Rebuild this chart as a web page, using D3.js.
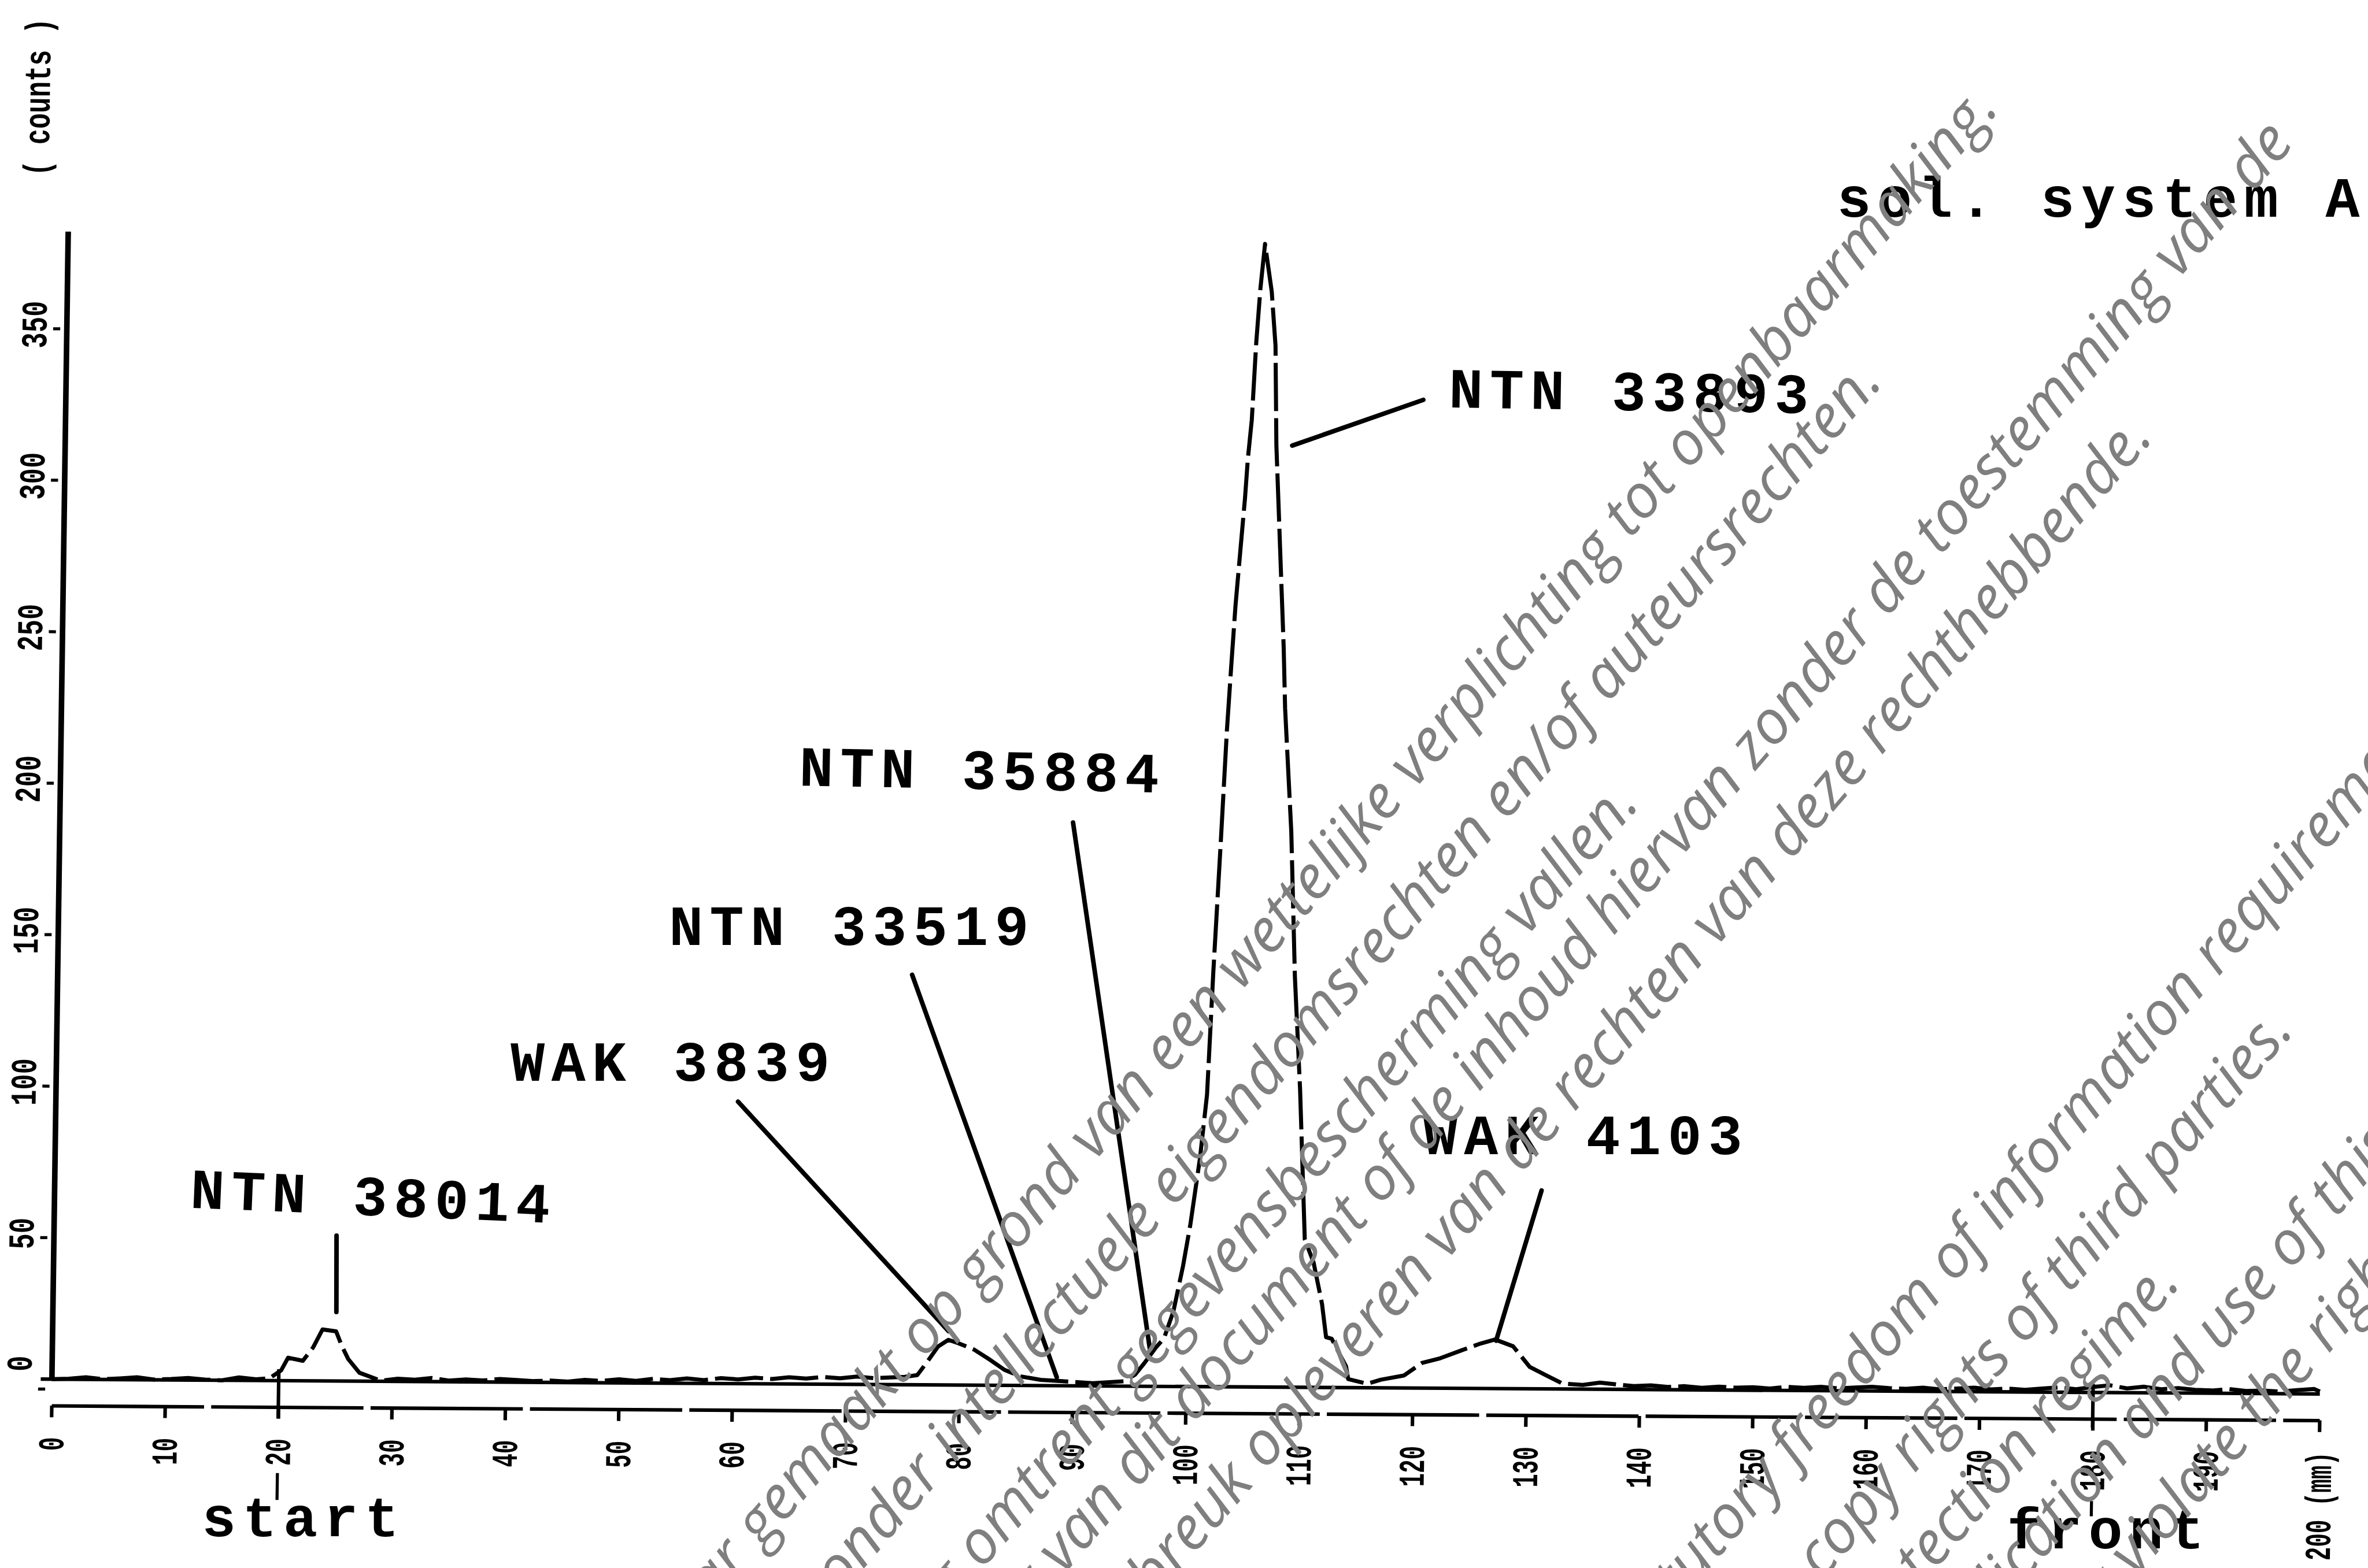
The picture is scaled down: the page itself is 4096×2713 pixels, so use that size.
<!DOCTYPE html>
<html>
<head>
<meta charset="utf-8">
<script src="https://cdn.jsdelivr.net/npm/d3@7"></script>
<style>
  html, body { margin: 0; padding: 0; background: #fff; }
  svg { display: block; }
</style>
</head>
<body>
<svg id="chart" width="4096" height="2713"></svg>
<script>
// Radio-TLC scan, solvent system A: counts along the plate (start at 20, front at 180).

const distance = [
  0, 1.5, 3, 4.5, 6, 7.5, 9, 10.5, 12, 13.5, 15, 16.5, 18, 19.2,
  20.2, 20.8, 22.1, 23.0, 23.8, 25.0, 25.5, 26.1, 27.1, 29.0,
  30.5, 32, 33.5, 35, 36.5, 38, 39.5, 41, 42.5, 44, 45.5, 47, 48.5, 50,
  51.5, 53, 54.5, 56, 57.5, 59, 60.5, 62, 63.5, 65, 66.5, 68, 69.5, 71, 72.5, 74, 75.2,
  76.3, 77.2, 78.1, 79.0, 79.9, 81.3, 82.7, 84.0, 85.4, 87.2, 89.1, 91.8, 94.5, 95.5,
  96.3, 97.3, 98.0, 98.8, 99.6, 100.2, 100.96, 101.5, 101.9, 102.4, 102.8, 103.1,
  103.4, 103.7, 104.1, 104.3, 104.6, 104.9, 105.2, 105.55, 106.2, 106.6, 106.8,
  107.1, 107.4, 107.7, 107.9, 108.6, 109.1, 109.7, 110.3, 111.1, 111.9, 112.3,
  112.8, 113.3, 114.1, 114.3, 116.0, 117.2, 119.2, 120.8, 122.4, 124.3, 125.9,
  127.2, 128.8, 130.3, 131.8, 133.2,
  135, 136.5, 138, 139.5, 141, 142.5, 144, 145.5, 147, 148.5, 150, 151.5, 153,
  154.5, 156, 157.5, 159, 160.5, 162, 163.5, 165, 166.5, 168, 169.5, 171, 172.5,
  174, 175.5, 177, 178.5, 180, 181.5, 183, 184.5, 186, 187.5, 189, 190.5, 192,
  193.5, 195, 196.5, 198, 199.5, 200
];

const counts = [
  3.2, 3.4, 3.9, 3.3, 3.6, 4.0, 3.3, 3.5, 3.9, 3.4, 3.2, 4.2, 3.6, 4.0,
  6.6, 10.8, 9.8, 14.3, 20.2, 19.6, 15.0, 10.5, 6.0, 3.4,
  4.1, 3.8, 4.4, 3.6, 4.0, 3.7, 4.2, 3.9, 3.6, 3.8, 3.5, 4.1, 3.8, 4.4,
  3.9, 4.6, 4.2, 4.8, 4.3, 5.0, 4.6, 5.2, 4.8, 5.4, 5.0, 5.6, 5.2, 5.8, 5.3, 5.6, 5.8,
  6.4, 11.0, 15.9, 18.1, 17.0, 14.9, 11.6, 8.3, 6.2, 5.1, 4.7, 4.1, 4.8, 7.0,
  10.8, 16.0, 19.0, 27.9, 43.0, 56.9, 78.7, 99.6, 140.0, 183.4, 220.2, 241.3,
  261.2, 276.4, 296.5, 309.4, 322.3, 348.1, 365.9, 380.5, 364.8, 347.0, 314.2,
  291.9, 269.5, 247.3, 227.3, 186.6, 138.7, 101.4, 52.0, 44.5, 30.8, 19.8,
  19.3, 15.7, 10.2, 6.0, 4.5, 5.9, 7.3, 11.5, 13.1, 15.8, 18.0,
  19.4, 17.2, 10.4, 7.6, 5.0,
  4.6, 5.4, 4.8, 4.3, 4.6, 4.1, 4.4, 3.9, 4.3, 4.0, 4.2, 3.8, 4.4,
  4.1, 4.5, 4.0, 4.3, 4.6, 4.2, 4.0, 4.4, 3.9, 4.2, 4.5, 4.0, 4.3,
  3.9, 4.4, 4.8, 4.2, 5.0, 5.6, 4.6, 5.2, 4.4, 4.8, 4.3, 4.1, 4.6,
  4.0, 4.2, 3.9, 4.4, 4.8, 4.0
];

const background = 3.2;

const xTicks = [0, 10, 20, 30, 40, 50, 60, 70, 80, 90, 100, 110, 120, 130, 140, 150, 160, 170, 180, 190, 200];
const xTickLabels = ["0", "10", "20", "30", "40", "50", "60", "70", "80", "90", "100", "110", "120", "130", "140", "150", "160", "170", "180", "190", "200 (mm)"];
const yTicks = [0, 50, 100, 150, 200, 250, 300, 350];
const yTickLabels = ["0", "50", "100", "150", "200", "250", "300", "350"];
const yTitle = "( counts )";

const peakNames = ["NTN 38014", "WAK 3839", "NTN 33519", "NTN 35884", "NTN 33893", "WAK 4103"];
const peakDistance = [25.0, 79.0, 88.6, 96.8, 108.2, 127.3];
const leaderCounts = [26, 21, 6, 15, 314, 19];

const startDistance = 20;
const frontDistance = 180;
const titleText = "sol. system A";

const noticeLines = [
  "Dit document is openbaar gemaakt op grond van een wettelijke verplichting tot openbaarmaking.",
  "Dit document kan vallen onder intellectuele eigendomsrechten en/of auteursrechten.",
  "Dit document kan gegevens bevatten die onder regelgeving omtrent gegevensbescherming vallen.",
  "Verveelvoudiging en/of openbaarmaking van dit document of de inhoud hiervan zonder de toestemming van de",
  "rechthebbende kan een inbreuk opleveren van de rechten van deze rechthebbende.",
  "This document has been made public under statutory freedom of information requirements.",
  "This document may be subject to intellectual property rights and/or copy rights of third parties.",
  "This document may contain data that fall under a data protection regime.",
  "Reproduction and/or publication and use of this document or its contents without the consent of the",
  "rightholder may violate the rights of the rightholder."
];

// ---------- layout (reference pixel units, scaled once at the root) ----------
const S = 0.878;
const W = 4096, H = 2713;
const MONO = "'Liberation Mono', 'Courier New', monospace";

// pinned watermark points: the substring ending at `pin` sits at (px, py)
const noticeLayout = [
  { pin: null, px: 3941, py: 215 },
  { pin: null, px: 3712, py: 754 },
  { pin: null, px: 3233, py: 1585 },
  { pin: null, px: 4522, py: 283 },
  { pin: null, px: 4245, py: 863 },
  { pin: "information", px: 4350, py: 1949 },
  { pin: null, px: 4522, py: 2032 },
  { pin: null, px: 4299, py: 2529 },
  { pin: "use of", px: 4582, py: 2425 },
  { pin: "violate the", px: 4567, py: 2692 }
];

// label boxes: left/baseline of the text, tilt, and where the leader leaves the text
const labelLayout = [
  { x: 374,  y: 2380, rot: 2.4, lx: 663,  ly: 2435 },
  { x: 1006, y: 2130, rot: 0,   lx: 1454, ly: 2171 },
  { x: 1318, y: 1862, rot: 0,   lx: 1797, ly: 1921 },
  { x: 1574, y: 1548, rot: 1.1, lx: 2114, ly: 1621 },
  { x: 2854, y: 803,  rot: 0.9, lx: 2804, ly: 788 },
  { x: 2804, y: 2275, rot: 0,   lx: 3037, ly: 2346 }
];

const svg = d3.select("#chart");
svg.append("rect").attr("width", W).attr("height", H).attr("fill", "#fff");
const root = svg.append("g").attr("transform", `scale(${S})`);

const x = d3.scaleLinear().domain([0, 200]).range([102, 4570]);
const y = d3.scaleLinear().domain([0, 382]).range([2737, 2737 - 382 * 5.97]);

// the plotter frame is slightly skewed on the sheet
const KX = -0.0142, KY = 0.0065;
const O = [x(0), y(0)];
const plot = root.append("g")
  .attr("transform", `translate(${O[0]},${O[1]}) matrix(1,${KY},${KX},1,0,0) translate(${-O[0]},${-O[1]})`);
function page(px, py) {
  const dx = px - O[0], dy = py - O[1];
  return [O[0] + dx + KX * dy, O[1] + KY * dx + dy];
}

function tickFont(sel) {
  sel.attr("font-family", MONO)
     .attr("font-weight", "bold")
     .attr("font-size", 72)
     .attr("fill", "#000");
}

// x axis (separate ruled line below the trace)
const xAxis = d3.axisBottom(x)
  .tickValues(xTicks)
  .tickSize(23)
  .tickSizeOuter(0)
  .tickFormat((d, i) => xTickLabels[i]);
const gx = plot.append("g")
  .attr("transform", `translate(0,${y(0) + 33})`)
  .call(xAxis);
gx.attr("font-size", null).attr("font-family", null);
gx.select(".domain")
  .attr("stroke", "#000").attr("stroke-width", 7)
  .attr("stroke-dasharray", "300 14");
gx.selectAll(".tick line").attr("stroke", "#000").attr("stroke-width", 7);
gx.selectAll(".tick text")
  .attr("y", 0).attr("dy", null)
  .attr("text-anchor", "end")
  .attr("transform", "translate(24,62) rotate(-90) scale(0.62,1)")
  .call(tickFont);

// y axis
const yAxis = d3.axisLeft(y)
  .tickValues(yTicks)
  .tickSize(0)
  .tickSizeOuter(0)
  .tickFormat((d, i) => yTickLabels[i]);
const gy = plot.append("g")
  .attr("transform", `translate(${x(0)},0)`)
  .call(yAxis);
gy.attr("font-size", null).attr("font-family", null);
gy.select(".domain").remove();
gy.selectAll(".tick line")
  .attr("x1", -13).attr("x2", -27)
  .attr("stroke", "#000").attr("stroke-width", 6);
gy.selectAll(".tick text")
  .attr("x", 0).attr("dy", null)
  .attr("text-anchor", "middle")
  .attr("transform", d => `translate(-40,${d === 0 ? -50 : -8}) rotate(-90) scale(0.72,1)`)
  .call(tickFont);

plot.append("line")
  .attr("x1", x(0)).attr("x2", x(0))
  .attr("y1", y(background)).attr("y2", y(382))
  .attr("stroke", "#000").attr("stroke-width", 11);

plot.append("text")
  .attr("text-anchor", "middle")
  .attr("transform", `translate(${x(0) - 40},192) rotate(-90) scale(0.72,1)`)
  .text(yTitle)
  .call(tickFont);

// background level
plot.append("line")
  .attr("x1", x(0) - 22).attr("x2", x(200))
  .attr("y1", y(background)).attr("y2", y(background))
  .attr("stroke", "#000").attr("stroke-width", 7);

// count trace
const line = d3.line().x(d => x(d[0])).y(d => y(d[1]));
plot.append("path")
  .datum(d3.zip(distance, counts))
  .attr("d", line)
  .attr("fill", "none")
  .attr("stroke", "#000")
  .attr("stroke-width", 8)
  .attr("stroke-linejoin", "round")
  .attr("stroke-dasharray", "95 14");

// start / front markers through the axis
[[startDistance, 7, 55, 163, 216], [frontDistance, 6, 50, 195, 225]].forEach(([d, top, a, b, c]) => {
  plot.append("line")
    .attr("x1", x(d)).attr("x2", x(d))
    .attr("y1", y(top)).attr("y2", y(0) + a)
    .attr("stroke", "#000").attr("stroke-width", 7);
  plot.append("line")
    .attr("x1", x(d)).attr("x2", x(d))
    .attr("y1", y(0) + b).attr("y2", y(0) + c)
    .attr("stroke", "#000").attr("stroke-width", 6);
});

function typeFont(sel) {
  sel.attr("font-family", MONO)
     .attr("font-weight", "bold")
     .attr("font-size", 112)
     .attr("letter-spacing", 13)
     .attr("fill", "#000");
}

const sp = page(x(startDistance), y(0));
root.append("text").attr("x", sp[0] - 151).attr("y", sp[1] + 287).text("start").call(typeFont);
const fp = page(x(frontDistance), y(0));
root.append("text").attr("x", fp[0] - 169).attr("y", fp[1] + 288).text("front").call(typeFont);

root.append("text").attr("x", 3619).attr("y", 427).text(titleText).call(typeFont);

// peak labels with leader lines
peakNames.forEach((name, i) => {
  const L = labelLayout[i];
  root.append("text")
    .attr("transform", `translate(${L.x},${L.y}) rotate(${L.rot})`)
    .text(name)
    .call(typeFont);
  const tip = page(x(peakDistance[i]), y(leaderCounts[i]));
  root.append("line")
    .attr("x1", L.lx).attr("y1", L.ly)
    .attr("x2", tip[0]).attr("y2", tip[1])
    .attr("stroke", "#000").attr("stroke-width", 9)
    .attr("stroke-linecap", "round");
});

// disclosure notice across the sheet
const notice = root.append("g");
noticeLines.forEach((t, i) => {
  const L = noticeLayout[i];
  const g = notice.append("g").attr("transform", `translate(${L.px},${L.py}) rotate(-49.3)`);
  const tx = g.append("text")
    .attr("font-family", "'Open Sans', 'Noto Sans', sans-serif")
    .attr("font-style", "italic")
    .attr("font-size", 120)
    .attr("fill", "#7f7f7f")
    .text(t);
  const end = L.pin ? t.indexOf(L.pin) + L.pin.length : t.length;
  const off = tx.node().getSubStringLength(0, end);
  tx.attr("x", -off);
});
</script>
</body>
</html>
